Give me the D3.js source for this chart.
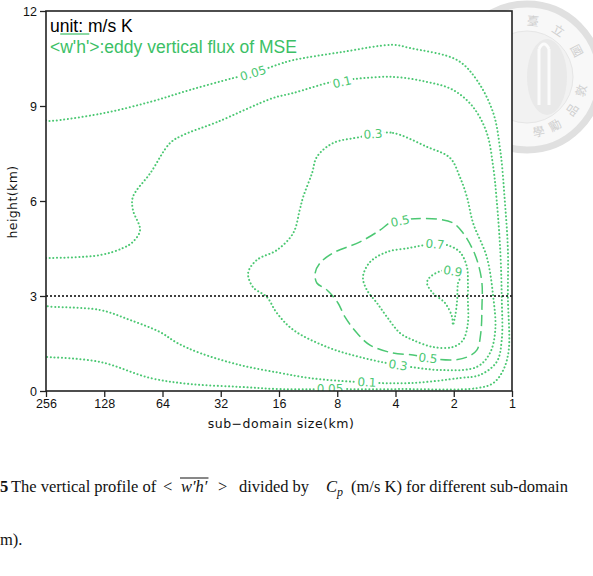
<!DOCTYPE html>
<html>
<head>
<meta charset="utf-8">
<script src="https://cdn.jsdelivr.net/npm/d3@7"></script>
<style>
  body { margin: 0; background: #fff; }
  svg { display: block; }
</style>
</head>
<body>
<div id="app"></div>
<script>
// ---- data (sub-domain size in km, height in km) ----
const sizeTicks = [256, 128, 64, 32, 16, 8, 4, 2, 1];
const heightTicks = [0, 3, 6, 9, 12];
const refHeight = 3;

const c005 = [[256, 8.55], [253, 8.53], [135, 8.75], [74, 9.13], [46, 9.51], [27.7, 9.88], [21.8, 10.04], [15.8, 10.33],
  [13.5, 10.45], [7.47, 10.71], [4.12, 10.93], [3.37, 10.83], [1.92, 10.45], [1.52, 9.82], [1.25, 8.78], [1.15, 7.61],
  [1.09, 6.03], [1.05, 4.45], [1.05, 2.97], [1.04, 1.29], [1.11, 0.66], [1.25, 0.25], [1.52, 0.09], [3.79, 0.06],
  [8.72, 0.06], [15.8, 0.06], [25.5, 0.13], [46, 0.22], [74, 0.41], [135, 0.92], [250, 1.07], [256, 1.07]];

const c01 = [[256, 4.2], [253, 4.2], [135, 4.29], [102, 4.52], [91, 4.71], [83.6, 5.08], [91, 5.72], [91, 6.13], [74, 6.88],
  [58.5, 7.83], [50.2, 8.08], [33.5, 8.49], [17.2, 9.25], [13.5, 9.41], [8.51, 9.76], [6.63, 9.85], [4.12, 9.92],
  [2.75, 9.76], [2.02, 9.51], [1.59, 8.97], [1.35, 8.15], [1.25, 7.07], [1.2, 6.03], [1.15, 4.45], [1.13, 2.97],
  [1.13, 1.61], [1.2, 0.92], [1.46, 0.51], [1.86, 0.41], [3.37, 0.25], [6.1, 0.28], [11.1, 0.41], [15.8, 0.57],
  [25.5, 0.82], [41, 1.2], [53.8, 1.52], [65.9, 1.86], [94, 2.24], [135, 2.56], [253, 2.68], [256, 2.7]];

const c03 = [[5.23, 8.12], [4.12, 8.15], [2.75, 7.71], [2.09, 7.36], [1.86, 6.76], [1.71, 6.13], [1.59, 5.31], [1.35, 4.23],
  [1.25, 2.97], [1.22, 1.93], [1.3, 1.2], [1.52, 0.76], [2.27, 0.66], [3.88, 0.82], [6.1, 1.07], [9.04, 1.39],
  [13.5, 1.93], [16.4, 2.46], [18.5, 2.97], [21.8, 3.28], [23.1, 3.73], [20.8, 4.14], [16.4, 4.45], [13.5, 4.99],
  [12.5, 5.72], [12.0, 6.13], [10.8, 6.88], [10.2, 7.39], [8.41, 7.83], [6.1, 8.02]];

const c05 = [[3.79, 5.37], [3.37, 5.43], [2.44, 5.43], [2.02, 5.31], [1.79, 4.99], [1.61, 4.52], [1.5, 4.04], [1.43, 3.41],
  [1.43, 2.65], [1.45, 1.83], [1.52, 1.29], [1.71, 1.07], [2.02, 0.98], [2.72, 1.04], [3.25, 1.14], [4.12, 1.2],
  [5.42, 1.45], [6.33, 1.83], [7.3, 2.34], [7.93, 2.78], [9.04, 3.19], [10.2, 3.41], [10.4, 3.73], [9.82, 4.04],
  [8.41, 4.36], [6.1, 4.71], [4.81, 5.08], [4.27, 5.31]];

const c07 = [[2.5, 4.64], [2.17, 4.61], [1.86, 4.39], [1.71, 3.92], [1.69, 3.41], [1.69, 2.87], [1.69, 2.15], [1.79, 1.61],
  [2.02, 1.39], [2.56, 1.39], [3.25, 1.61], [3.79, 1.83], [4.43, 2.34], [4.99, 2.78], [5.62, 3.19], [5.89, 3.6],
  [5.42, 4.07], [4.43, 4.39], [3.37, 4.52], [2.82, 4.61]];

const c09 = [[2.22, 3.82], [1.81, 3.73], [1.9, 3.41], [1.92, 2.87], [1.97, 2.34], [2.02, 2.08], [2.04, 2.34], [2.22, 2.78],
  [2.56, 3.09], [2.75, 3.41], [2.65, 3.6]];

const contours = [
  { level: 0.05, pts: c005, closed: false },
  { level: 0.1, pts: c01, closed: false },
  { level: 0.3, pts: c03, closed: true },
  { level: 0.5, pts: c05, closed: true },
  { level: 0.7, pts: c07, closed: true },
  { level: 0.9, pts: c09, closed: true }
];

// contour labels: [level, size, height]
const contourLabels = [
  [0.05, 21.8, 10.04], [0.1, 7.56, 9.76], [0.3, 5.23, 8.12], [0.5, 3.79, 5.37], [0.7, 2.5, 4.64],
  [0.9, 2.02, 3.79], [0.5, 2.72, 1.04], [0.3, 3.88, 0.82], [0.1, 5.62, 0.28], [0.05, 8.72, 0.06]
];

const sealChars = ['臺', '立', '國', '敦', '品', '勵', '學'];

// ---- layout ----
const W = 593, H = 576;
const m = { left: 46, right: 512, top: 11, bottom: 391 };
const green = '#4cc873';
const textGreen = '#3cbf66';

const svg = d3.select('#app').append('svg')
  .attr('width', W).attr('height', H);

/////////SEAL (watermark behind the plot)/////////
const seal = svg.append('g').attr('transform', 'translate(527,77)');
seal.append('circle').attr('r', 73).attr('fill', '#f8f8f8').attr('stroke', '#e0e0e0').attr('stroke-width', 7);
seal.append('circle').attr('r', 46).attr('fill', '#f2f2f2').attr('stroke', '#e6e6e6').attr('stroke-width', 1);
seal.append('ellipse').attr('cx', 20).attr('cy', 0).attr('rx', 20).attr('ry', 38).attr('fill', '#e9e9e9');
seal.append('path').attr('d', 'M12,-28 L12,28 M22,-28 L22,28 M12,-28 Q17,-38 22,-28')
  .attr('fill', 'none').attr('stroke', '#fbfbfb').attr('stroke-width', 3);
const sealAngles = [6, 34, 62, 104, 126, 150, 168];
sealChars.forEach((ch, i) => {
  const a = sealAngles[i] * Math.PI / 180;
  const r = 56;
  const rot = sealAngles[i] > 90 ? sealAngles[i] - 180 : sealAngles[i];
  seal.append('text')
    .attr('transform', `translate(${r * Math.sin(a)},${-r * Math.cos(a)}) rotate(${rot})`)
    .attr('text-anchor', 'middle').attr('dy', '0.35em')
    .style('font-family', '"Noto Sans CJK TC"').style('font-size', '12px')
    .attr('fill', '#d0d0d0').text(ch);
});

/////////SCALES/////////
const x = d3.scaleLog().base(2).domain([256, 1]).range([m.left, m.right]);
const y = d3.scaleLinear().domain([0, 12]).range([m.bottom, m.top]);

svg.append('rect')
  .attr('x', m.left).attr('y', m.top)
  .attr('width', m.right - m.left).attr('height', m.bottom - m.top)
  .attr('fill', '#fff');

svg.append('clipPath').attr('id', 'plotClip')
  .append('rect')
  .attr('x', m.left).attr('y', m.top)
  .attr('width', m.right - m.left).attr('height', m.bottom - m.top);

const plot = svg.append('g').attr('clip-path', 'url(#plotClip)');

/////////CONTOURS/////////
const lineOpen = d3.line().x(d => x(d[0])).y(d => y(d[1])).curve(d3.curveCatmullRom.alpha(0.5));
const lineClosed = d3.line().x(d => x(d[0])).y(d => y(d[1])).curve(d3.curveCatmullRomClosed.alpha(0.5));

plot.selectAll('path.contour')
  .data(contours)
  .join('path')
  .attr('class', 'contour')
  .attr('d', d => d.closed ? lineClosed(d.pts) : lineOpen(d.pts))
  .attr('fill', 'none')
  .attr('stroke', green)
  .attr('stroke-width', d => d.level === 0.5 ? 1.5 : 2)
  .attr('stroke-linecap', d => d.level === 0.5 ? 'butt' : 'round')
  .attr('stroke-dasharray', d => d.level === 0.5 ? '11,5' : '0.1,3.6');

/////////REFERENCE LINE/////////
plot.append('line')
  .attr('x1', m.left).attr('x2', m.right)
  .attr('y1', y(refHeight)).attr('y2', y(refHeight))
  .attr('stroke', '#000').attr('stroke-width', 1.4)
  .attr('stroke-dasharray', '2,2');

/////////CONTOUR LABELS/////////
function nearest(pts, sx, sy) {
  let best = { i: 0, dist: Infinity };
  pts.forEach((p, i) => {
    const dd = Math.hypot(x(p[0]) - sx, y(p[1]) - sy);
    if (dd < best.dist) best = { i, dist: dd };
  });
  return best;
}
function labelAngle(level, sx, sy) {
  const pts = contours.find(c => c.level === level && nearest(c.pts, sx, sy).dist < 12).pts;
  const i = nearest(pts, sx, sy).i;
  const a = pts[Math.max(0, i - 1)], b = pts[Math.min(pts.length - 1, i + 1)];
  let ang = Math.atan2(y(b[1]) - y(a[1]), x(b[0]) - x(a[0])) * 180 / Math.PI;
  if (ang > 90) ang -= 180;
  if (ang < -90) ang += 180;
  return Math.abs(ang) > 30 ? 0 : ang;
}

contourLabels.forEach(([lev, s, h]) => {
  const px = x(s), py = y(h);
  const ang = labelAngle(lev, px, py);
  const g = plot.append('g').attr('transform', `translate(${px},${py}) rotate(${ang})`);
  const t = g.append('text')
    .attr('text-anchor', 'middle').attr('dy', '0.36em')
    .style('font-family', '"DejaVu Sans", sans-serif').style('font-size', '12px')
    .attr('fill', green).text(String(lev));
  const bb = t.node().getBBox();
  g.insert('rect', 'text')
    .attr('x', bb.x - 1.5).attr('y', bb.y + 2).attr('width', bb.width + 3).attr('height', bb.height - 4)
    .attr('fill', '#fff');
});

/////////AXES/////////
const axisFont = g => g.selectAll('text')
  .style('font-family', '"Liberation Sans", Arial, sans-serif')
  .style('font-size', '12.5px').attr('fill', '#111');

svg.append('g')
  .attr('transform', `translate(${m.left},0)`)
  .call(d3.axisLeft(y).tickValues(heightTicks).tickSize(6).tickPadding(3))
  .call(g => g.select('.domain').remove())
  .call(g => g.selectAll('line').attr('stroke', '#222').attr('stroke-width', 1.3))
  .call(axisFont);

svg.append('g')
  .attr('transform', `translate(0,${m.bottom})`)
  .call(d3.axisBottom(x).tickValues(sizeTicks).tickFormat(d3.format('d')).tickSize(6).tickPadding(2))
  .call(g => g.select('.domain').remove())
  .call(g => g.selectAll('line').attr('stroke', '#222').attr('stroke-width', 1.3))
  .call(axisFont);

svg.append('rect')
  .attr('x', m.left).attr('y', m.top)
  .attr('width', m.right - m.left).attr('height', m.bottom - m.top)
  .attr('fill', 'none').attr('stroke', '#222').attr('stroke-width', 1.6);

svg.append('text')
  .attr('x', (m.left + m.right) / 2 + 2).attr('y', 428)
  .attr('text-anchor', 'middle')
  .style('font-family', '"DejaVu Sans", sans-serif').style('font-size', '12.5px')
  .style('letter-spacing', '0.5px')
  .attr('fill', '#111')
  .text('sub\u2212domain size(km)');

svg.append('text')
  .attr('transform', 'translate(17,202) rotate(-90)')
  .attr('text-anchor', 'middle')
  .style('font-family', '"DejaVu Sans", sans-serif').style('font-size', '12.5px')
  .style('letter-spacing', '0.4px')
  .attr('fill', '#111')
  .text('height(km)');

/////////TITLE TEXT IN PLOT/////////
svg.append('text')
  .attr('x', 50).attr('y', 32)
  .style('font-family', '"Liberation Sans", Arial, sans-serif').style('font-size', '17.5px')
  .attr('fill', '#000')
  .text('unit: m/s K');

const sub = svg.append('text')
  .attr('x', 50).attr('y', 53)
  .style('font-family', '"Liberation Sans", Arial, sans-serif').style('font-size', '17.5px')
  .attr('fill', textGreen)
  .text("<w'h'>:eddy vertical flux of MSE");
const x0 = 50 + sub.node().getSubStringLength(0, 1);
const wOver = sub.node().getSubStringLength(1, 4);
svg.append('line')
  .attr('x1', x0).attr('x2', x0 + wOver).attr('y1', 34).attr('y2', 34)
  .attr('stroke', textGreen).attr('stroke-width', 1.2);

/////////CAPTION/////////
const serif = '"Liberation Serif", "Times New Roman", serif';
const cap = svg.append('g').style('font-family', serif).style('font-size', '16.5px').attr('fill', '#111');
cap.append('text').attr('x', 0).attr('y', 492).style('font-weight', 'bold').text('5');
cap.append('text').attr('x', 11).attr('y', 492).text('The vertical profile of');
cap.append('text').attr('x', 163).attr('y', 492).text('<');
const wh = cap.append('text').attr('x', 181).attr('y', 492).style('font-style', 'italic').text('w\u2032h\u2032');
const whW = wh.node().getComputedTextLength();
cap.append('line').attr('x1', 180).attr('x2', 182 + whW).attr('y1', 478).attr('y2', 478)
  .attr('stroke', '#111').attr('stroke-width', 1);
cap.append('text').attr('x', 218).attr('y', 492).text('>');
cap.append('text').attr('x', 239).attr('y', 492).text('divided by');
cap.append('text').attr('x', 326).attr('y', 492).style('font-style', 'italic').text('C');
cap.append('text').attr('x', 337).attr('y', 496).style('font-style', 'italic').style('font-size', '12px').text('p');
cap.append('text').attr('x', 351).attr('y', 492).text('(m/s K) for different sub-domain');
cap.append('text').attr('x', 0).attr('y', 545).text('m).');
</script>
</body>
</html>
